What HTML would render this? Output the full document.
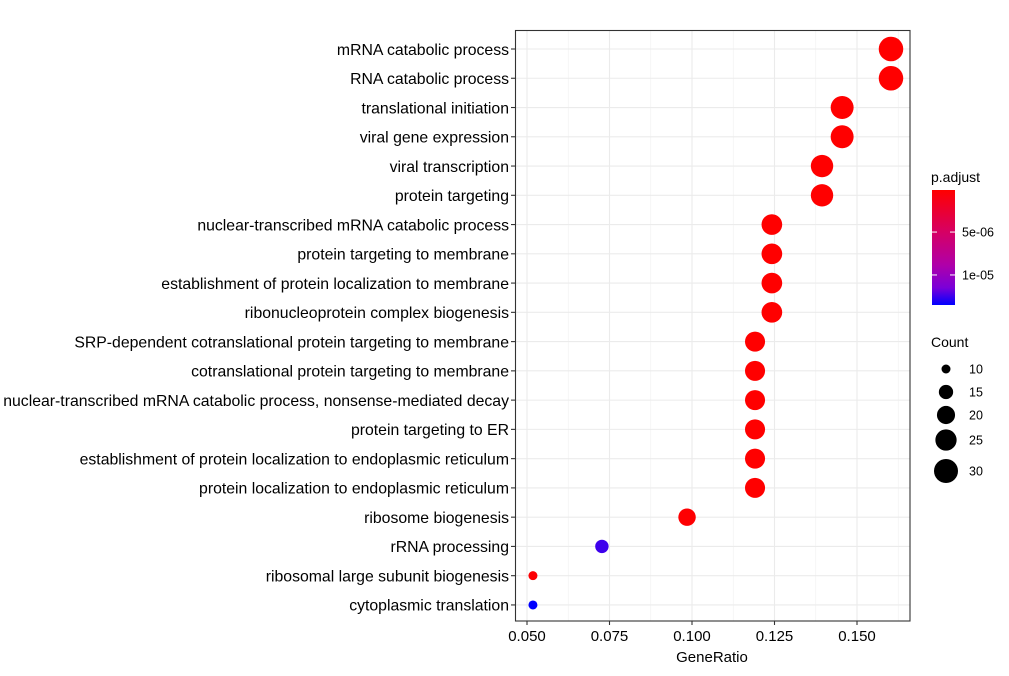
<!DOCTYPE html>
<html><head><meta charset="utf-8"><style>
html,body{margin:0;padding:0;background:#fff}
svg text{font-family:"Liberation Sans",Arial,sans-serif}
</style></head><body>
<svg id="chart" width="1009" height="671" xmlns="http://www.w3.org/2000/svg">
<defs><linearGradient id="grad" x1="0" y1="0" x2="0" y2="1">
<stop offset="0" stop-color="#ff0000"/><stop offset="0.35" stop-color="#d80060"/><stop offset="0.65" stop-color="#b000a8"/><stop offset="0.85" stop-color="#7a00d8"/><stop offset="1" stop-color="#0000ff"/></linearGradient></defs>
<g id="grid"></g>
<g id="dots"></g>
<rect x="515.5" y="30.5" width="394.5" height="590.5" fill="none" stroke="#333" stroke-width="1.1"/>
<g id="ylabels"></g>
<g id="xlabels"></g>
<text x="712" y="662" font-size="15" text-anchor="middle" fill="#000">GeneRatio</text>
<g>
<text x="931" y="182" font-size="14" fill="#000">p.adjust</text>
<rect x="932" y="190" width="23" height="115" fill="url(#grad)"/>
<g id="cticks"></g>
</g>
<g id="sizeLegend">
<text x="931" y="347" font-size="14" fill="#000">Count</text>
</g>
</svg>
<script>
const terms=["mRNA catabolic process","RNA catabolic process","translational initiation","viral gene expression","viral transcription","protein targeting","nuclear-transcribed mRNA catabolic process","protein targeting to membrane","establishment of protein localization to membrane","ribonucleoprotein complex biogenesis","SRP-dependent cotranslational protein targeting to membrane","cotranslational protein targeting to membrane","nuclear-transcribed mRNA catabolic process, nonsense-mediated decay","protein targeting to ER","establishment of protein localization to endoplasmic reticulum","protein localization to endoplasmic reticulum","ribosome biogenesis","rRNA processing","ribosomal large subunit biogenesis","cytoplasmic translation"];
const geneRatio=[0.1603,0.1603,0.1455,0.1455,0.1394,0.1394,0.1242,0.1242,0.1242,0.1242,0.1191,0.1191,0.1191,0.1191,0.1191,0.1191,0.0985,0.0727,0.0518,0.0518];
const counts=[31,31,28,28,27,27,24,24,24,24,23,23,23,23,23,23,19,14,10,10];
const padj=[1e-7,1e-7,1e-7,1e-7,1e-7,1e-7,1e-7,1e-7,1e-7,1e-7,1e-7,1e-7,1e-7,1e-7,1e-7,1e-7,2e-7,1.25e-5,3e-7,1.35e-5];
const xTicks=[0.050,0.075,0.100,0.125,0.150];
const xTickLabels=["0.050","0.075","0.100","0.125","0.150"];
const colorTicks=[5e-6,1e-5];
const colorTickLabels=["5e-06","1e-05"];
const sizeBreaks=[10,15,20,25,30];

const NS="http://www.w3.org/2000/svg";
const xs=v=>527+(v-0.05)*3300;
const ys=i=>49+i*29.26;
const rs=c=>Math.sqrt(20.25+6.19*(c-10));
const pmin=1e-7,pmax=1.35e-5;
const cy=v=>190+(v-pmin)/(pmax-pmin)*115;
const stops=[[0,255,0,0],[0.35,216,0,96],[0.65,176,0,168],[0.85,122,0,216],[1,0,0,255]];
function col(p){let t=Math.max(0,Math.min(1,(p-pmin)/(pmax-pmin)));
  for(let i=1;i<stops.length;i++){if(t<=stops[i][0]){const a=stops[i-1],b=stops[i];const f=(t-a[0])/(b[0]-a[0]);
    return `rgb(${Math.round(a[1]+(b[1]-a[1])*f)},${Math.round(a[2]+(b[2]-a[2])*f)},${Math.round(a[3]+(b[3]-a[3])*f)})`;}}
  return 'rgb(0,0,255)';}
function mk(tag,attrs,parent){const e=document.createElementNS(NS,tag);for(const k in attrs)e.setAttribute(k,attrs[k]);parent.appendChild(e);return e;}
const grid=document.getElementById('grid'),dots=document.getElementById('dots'),yl=document.getElementById('ylabels'),xl=document.getElementById('xlabels');
for(let i=0;i<xTicks.length;i++){
  const m=xTicks[i]+0.0125;const xm=xs(m);
  if(xm<910){const l=mk('line',{x1:xm,x2:xm,y1:31,y2:621,stroke:'#f0f0f0','stroke-width':0.6},grid);}
}
xTicks.forEach((t,i)=>{
  const x=xs(t);
  const g=mk('line',{x1:x,x2:x,y1:31,y2:621,stroke:'#ebebeb','stroke-width':1.1},grid);
  
  const tk=mk('line',{x1:x,x2:x,y1:621,y2:625,stroke:'#333','stroke-width':1.1},xl);
  
  const tx=mk('text',{x:x,y:641,'font-size':15,'text-anchor':'middle',fill:'#000'},xl);tx.textContent=xTickLabels[i];
  
});
terms.forEach((t,i)=>{
  const y=ys(i);
  const g=mk('line',{x1:516,x2:910,y1:y,y2:y,stroke:'#ebebeb','stroke-width':1.1},grid);
  
  const tk=mk('line',{x1:511,x2:515,y1:y,y2:y,stroke:'#333','stroke-width':1.1},yl);
  
  const tx=mk('text',{x:509,y:y+5.8,'font-size':15.8,'text-anchor':'end',fill:'#000'},yl);tx.textContent=t;
  
  const c=mk('circle',{cx:xs(geneRatio[i]),cy:y,r:rs(counts[i]),fill:col(padj[i])},dots);
  
});
const ct=document.getElementById('cticks');
colorTicks.forEach((v,i)=>{
  const y=cy(v);
  const a=mk('line',{x1:932,x2:937,y1:y,y2:y,stroke:'#fff','stroke-width':1},ct);
  const b=mk('line',{x1:950,x2:955,y1:y,y2:y,stroke:'#fff','stroke-width':1},ct);
  const tx=mk('text',{x:962,y:y+4.5,'font-size':12.5,fill:'#000'},ct);tx.textContent=colorTickLabels[i];
  
});
const sl=document.getElementById('sizeLegend');
const sy=[369,392,415,440,471];
sizeBreaks.forEach((c,i)=>{
  const ci=mk('circle',{cx:946,cy:sy[i],r:rs(c),fill:'#000'},sl);
  
  const tx=mk('text',{x:969,y:sy[i]+4.5,'font-size':12.5,fill:'#000'},sl);tx.textContent=c;
  
});
</script>
</body></html>
